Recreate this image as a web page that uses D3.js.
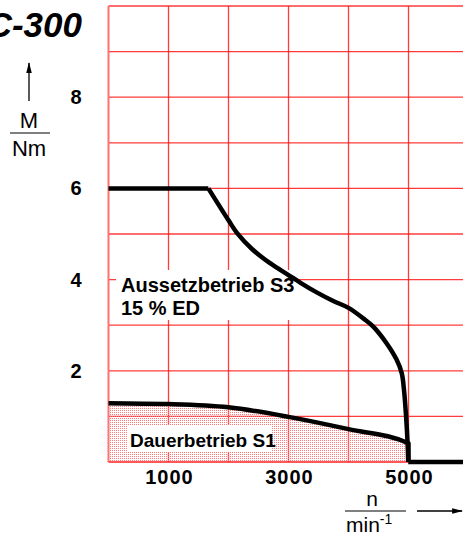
<!DOCTYPE html>
<html>
<head>
<meta charset="utf-8">
<script src="https://cdn.jsdelivr.net/npm/d3@7"></script>
<style>
  body { margin: 0; background: #fff; }
  text { font-family: "Liberation Sans", Arial, Helvetica, sans-serif; }
</style>
</head>
<body>
<div id="chart"></div>
<script>
// speed n (1/min) vs torque M (Nm)
var s3_n = [0, 1664, 2000, 2137, 2400, 2692, 3000, 3200, 3470, 3747, 4000, 4247, 4413, 4637, 4803, 4887, 4925, 4960, 4985, 4995, 6100];
var s3_m = [6, 6, 5.3, 5.03, 4.66, 4.36, 4.1, 3.93, 3.72, 3.53, 3.38, 3.15, 2.97, 2.6, 2.24, 1.95, 1.58, 0.99, 0.4, 0, 0];

var s1_n = [0, 1000, 2000, 3000, 4000, 5000];
var s1_m = [1.29, 1.27, 1.2, 0.99, 0.72, 0.41];

var xTicks = [1000, 3000, 5000];
var yTicks = [2, 4, 6, 8];

var W = 463, H = 535;

var svg = d3.select("#chart").append("svg")
    .attr("width", W)
    .attr("height", H);

var x = d3.scaleLinear().domain([0, 6000]).range([108.5, 468.5]);
var y = d3.scaleLinear().domain([0, 10]).range([462, 6]);

//pattern for the S1 area
var defs = svg.append("defs");
var pat = defs.append("pattern")
    .attr("id", "dots")
    .attr("width", 2)
    .attr("height", 2)
    .attr("patternUnits", "userSpaceOnUse");
pat.append("rect")
    .attr("width", 1)
    .attr("height", 1)
    .style("fill", "#ff7a7a");

// grid
var grid = svg.append("g").attr("class", "grid");
grid.selectAll(".vline")
    .data(d3.range(1000, 7000, 1000))
    .enter()
    .append("line")
    .attr("x1", function (d) { return x(d); })
    .attr("x2", function (d) { return x(d); })
    .attr("y1", y(10))
    .attr("y2", y(0))
    .style("stroke", "#ff1a1a")
    .style("stroke-width", 1.3)
    .style("opacity", 0.85);
grid.selectAll(".hline")
    .data(d3.range(1, 11))
    .enter()
    .append("line")
    .attr("x1", x(0))
    .attr("x2", W)
    .attr("y1", function (d) { return y(d); })
    .attr("y2", function (d) { return y(d); })
    .style("stroke", "#ff1a1a")
    .style("stroke-width", 1.3)
    .style("opacity", 0.85);
//left edge is paler
grid.append("line")
    .attr("x1", x(0)).attr("x2", x(0))
    .attr("y1", y(10)).attr("y2", y(0))
    .style("stroke", "#ff7070")
    .style("stroke-width", 2);

var s1 = s1_n.map(function (d, i) { return {n: d, m: s1_m[i]}; });
var s3 = s3_n.map(function (d, i) { return {n: d, m: s3_m[i]}; });

//dotted area under S1
var area = d3.area()
    .x(function (d) { return x(d.n); })
    .y0(y(0))
    .y1(function (d) { return y(d.m); })
    .curve(d3.curveMonotoneX);
svg.append("path")
    .datum(s1)
    .attr("d", area)
    .style("fill", "url(#dots)");
//bottom edge of the area
svg.append("line")
    .attr("x1", x(0)).attr("x2", x(5000))
    .attr("y1", y(0)).attr("y2", y(0))
    .style("stroke", "#ff2020")
    .style("stroke-width", 1.4);

// white boxes behind the labels
svg.append("rect")
    .attr("x", 116).attr("y", 270)
    .attr("width", 176).attr("height", 50)
    .style("fill", "#fff");
svg.append("rect")
    .attr("x", 128).attr("y", 425)
    .attr("width", 144).attr("height", 27)
    .style("fill", "#fff");

var lineLin = d3.line()
    .x(function (d) { return x(d.n); })
    .y(function (d) { return y(d.m); });
var lineSmooth = d3.line()
    .x(function (d) { return x(d.n); })
    .y(function (d) { return y(d.m); })
    .curve(d3.curveCatmullRom.alpha(0.5));

function thick(sel) {
    sel.style("fill", "none")
        .style("stroke", "#000")
        .style("stroke-width", 4.5)
        .style("stroke-linejoin", "round");
}

// S1, then straight down at 5000
svg.append("path")
    .datum(s1.concat([{n: 5000, m: 0}]))
    .attr("d", d3.line()
        .x(function (d) { return x(d.n); })
        .y(function (d) { return y(d.m); })
        .curve(d3.curveMonotoneX))
    .call(thick);

// S3: flat part, curved part, tail along zero
var last = s3.length - 1;
svg.append("path").datum(s3.slice(0, 2)).attr("d", lineLin).call(thick);
svg.append("path").datum(s3.slice(1, last)).attr("d", lineSmooth).call(thick);
svg.append("path").datum(s3.slice(last - 1)).attr("d", lineLin).call(thick);

// curve labels
var lab = svg.append("g")
    .style("font-weight", "bold");
lab.append("text").attr("x", 121).attr("y", 292).style("font-size", "20px").text("Aussetzbetrieb S3");
lab.append("text").attr("x", 121).attr("y", 315).style("font-size", "20px").text("15 % ED");
lab.append("text").attr("x", 130).attr("y", 447).style("font-size", "19px").text("Dauerbetrieb S1");

// tick labels
svg.selectAll(".ylab")
    .data(yTicks)
    .enter()
    .append("text")
    .attr("x", 76)
    .attr("y", function (d) { return y(d) + 7; })
    .attr("text-anchor", "middle")
    .style("font-weight", "bold")
    .style("font-size", "20px")
    .text(function (d) { return d; });

svg.selectAll(".xlab")
    .data(xTicks)
    .enter()
    .append("text")
    .attr("x", function (d) { return x(d) + 1; })
    .attr("y", 484)
    .attr("text-anchor", "middle")
    .style("font-weight", "bold")
    .style("font-size", "20px")
    .style("letter-spacing", "1px")
    .text(function (d) { return d; });

// title, cut at the left edge
svg.append("text")
    .attr("x", 82)
    .attr("y", 37)
    .attr("text-anchor", "end")
    .style("font-weight", "bold")
    .style("font-style", "italic")
    .style("font-size", "35px")
    .text("C-300");

// arrow marker
defs.append("marker")
    .attr("id", "arr")
    .attr("viewBox", "0 0 10 10")
    .attr("refX", 9).attr("refY", 5)
    .attr("markerWidth", 11).attr("markerHeight", 11)
    .attr("markerUnits", "userSpaceOnUse")
    .attr("orient", "auto")
    .append("path")
    .attr("d", "M0,2.5 L10,5 L0,7.5 Z")
    .style("fill", "#000");

// y axis unit
svg.append("line")
    .attr("x1", 29).attr("x2", 29)
    .attr("y1", 101).attr("y2", 63)
    .attr("marker-end", "url(#arr)")
    .style("stroke", "#000").style("stroke-width", 1.3);
svg.append("text").attr("x", 29).attr("y", 128).attr("text-anchor", "middle")
    .style("font-size", "22px").text("M");
svg.append("line").attr("x1", 10).attr("x2", 50).attr("y1", 133).attr("y2", 133)
    .style("stroke", "#000").style("stroke-width", 1.2);
svg.append("text").attr("x", 29).attr("y", 156).attr("text-anchor", "middle")
    .style("font-size", "22px").text("Nm");

// x axis unit
svg.append("text").attr("x", 372).attr("y", 506).attr("text-anchor", "middle")
    .style("font-size", "21px").text("n");
svg.append("line").attr("x1", 345).attr("x2", 406).attr("y1", 511).attr("y2", 511)
    .style("stroke", "#000").style("stroke-width", 1.2);
var mt = svg.append("text").attr("x", 346).attr("y", 532)
    .style("font-size", "21px");
mt.append("tspan").text("min");
mt.append("tspan").attr("dy", -8).style("font-size", "14px").text("-1");
svg.append("line")
    .attr("x1", 417).attr("x2", 462)
    .attr("y1", 511).attr("y2", 511)
    .attr("marker-end", "url(#arr)")
    .style("stroke", "#000").style("stroke-width", 1.3);
</script>
</body>
</html>
